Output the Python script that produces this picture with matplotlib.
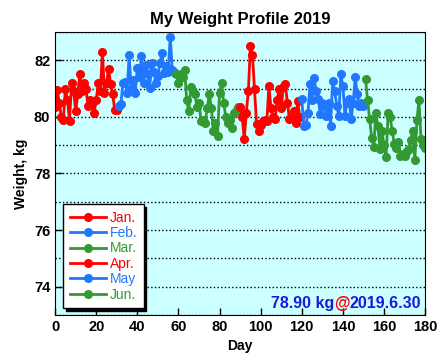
import numpy as np
import matplotlib
matplotlib.use("Agg")
import matplotlib.pyplot as plt
from matplotlib.ticker import MultipleLocator
from matplotlib.offsetbox import TextArea, HPacker, AnchoredOffsetbox

plt.rcParams['font.family'] = ['Liberation Sans', 'DejaVu Sans']

# daily weight (kg), day 0 = Jan 1
jan = [80.35, 80.94, 80.5, 80.0, 79.9, 81.0, 80.6, 79.86, 81.2, 80.9,
       80.2, 80.8, 81.5, 80.9, 81.2, 81.0, 80.4, 80.6, 80.5, 80.15,
       80.6, 81.2, 80.9, 82.3, 80.85, 81.2, 81.7, 81.15, 80.8, 80.25, 80.25]
feb = [80.4, 80.45, 81.2, 81.25, 80.85, 82.2, 81.0, 81.3, 80.85, 81.73,
       81.4, 82.17, 81.2, 81.85, 81.5, 81.03, 81.9, 81.6, 81.2, 81.44,
       81.9, 82.26, 81.55, 81.8, 81.6, 82.84, 81.67, 81.6]
mar = [81.52, 81.2, 81.5, 81.4, 81.67, 80.6, 80.2, 81.05, 80.9, 80.8,
       80.35, 80.5, 79.86, 79.9, 79.8, 80.3, 80.8, 80.33, 79.5, 79.8,
       79.33, 80.85, 81.2, 80.5, 80.0, 79.8, 79.9, 79.62, 80.15, 80.2, 80.35]
apr = [80.35, 80.0, 79.22, 80.15, 80.9, 82.5, 82.2, 80.97, 79.74, 79.5,
       79.7, 79.86, 79.9, 79.86, 81.09, 80.33, 80.0, 79.92, 80.6, 80.97,
       80.3, 81.05, 81.15, 80.5, 79.92, 80.0, 80.2, 79.8, 80.56, 80.0]
may = [80.62, 79.68, 79.7, 80.15, 81.15, 80.6, 81.38, 80.9, 80.62, 80.1,
       80.5, 80.4, 80.03, 80.5, 79.68, 81.26, 80.9, 80.4, 80.03, 81.5,
       81.09, 80.03, 80.5, 80.62, 79.92, 80.5, 81.4, 80.8, 80.39, 80.5, 80.39]
jun = [81.34, 80.59, 79.92, 79.27, 78.92, 80.12, 79.68, 78.87, 79.5, 79.0,
       78.57, 80.12, 79.98, 79.5, 79.04, 78.9, 79.1, 78.63, 78.7, 78.63,
       78.8, 78.87, 79.2, 79.5, 78.48, 79.88, 80.59, 79.22, 79.0, 78.90]

months = ['Jan.', 'Feb.', 'Mar.', 'Apr.', 'May', 'Jun.']
series = [jan, feb, mar, apr, may, jun]
red, blue, green = '#ff0000', '#2277ff', '#339933'
colors = [red, blue, green, red, blue, green]

fig = plt.figure(figsize=(4.41, 3.64), dpi=100)
ax = fig.add_axes([0.125, 0.135, 0.839, 0.777])
ax.set_facecolor('#ccffff')

start = 0
for name, vals, c in zip(months, series, colors):
    days = np.arange(start, start + len(vals))
    ax.plot(days, vals, color=c, lw=2, marker='o', ms=5.5, label=name)
    start += len(vals)

ax.set_xlim(0, 180)
ax.set_ylim(73, 83)
ax.xaxis.set_major_locator(MultipleLocator(20))
ax.yaxis.set_major_locator(MultipleLocator(2))
ax.yaxis.set_minor_locator(MultipleLocator(1))
ax.tick_params(direction='in', length=5, width=1)
ax.tick_params(axis='y', which='minor', length=0)
ax.grid(axis='y', which='both', color='black', ls=':', lw=1)
for lab in ax.get_xticklabels() + ax.get_yticklabels():
    lab.set_fontweight('bold')
    lab.set_fontsize(10.5)

ax.set_title('My Weight Profile 2019', fontsize=12, fontweight='bold')
ax.set_xlabel('Day', fontsize=10, fontweight='bold')
ax.set_ylabel('Weight, kg', fontsize=10, fontweight='bold')

leg = ax.legend(loc='lower left', fontsize=10, fancybox=False, framealpha=1,
                edgecolor='black', shadow={'color': 'black', 'alpha': 1},
                handlelength=2.6, labelspacing=0.1, borderpad=0.45,
                handletextpad=0.3, borderaxespad=0, bbox_to_anchor=(0.022, 0.025))
for txt, c in zip(leg.get_texts(), colors):
    txt.set_color(c)

last = jun[-1]
tp = dict(fontsize=11.5, fontweight='bold')
parts = [TextArea(f'{last:.2f} kg', textprops=dict(color='#1a1add', **tp)),
         TextArea('@', textprops=dict(color='#ff0000', **tp)),
         TextArea('2019.6.30', textprops=dict(color='#1a1add', **tp))]
box = AnchoredOffsetbox(loc='lower right', child=HPacker(children=parts, pad=0, sep=0),
                        frameon=False, pad=0.1, borderpad=0.2)
ax.add_artist(box)

fig.savefig('out.png', dpi=100)
